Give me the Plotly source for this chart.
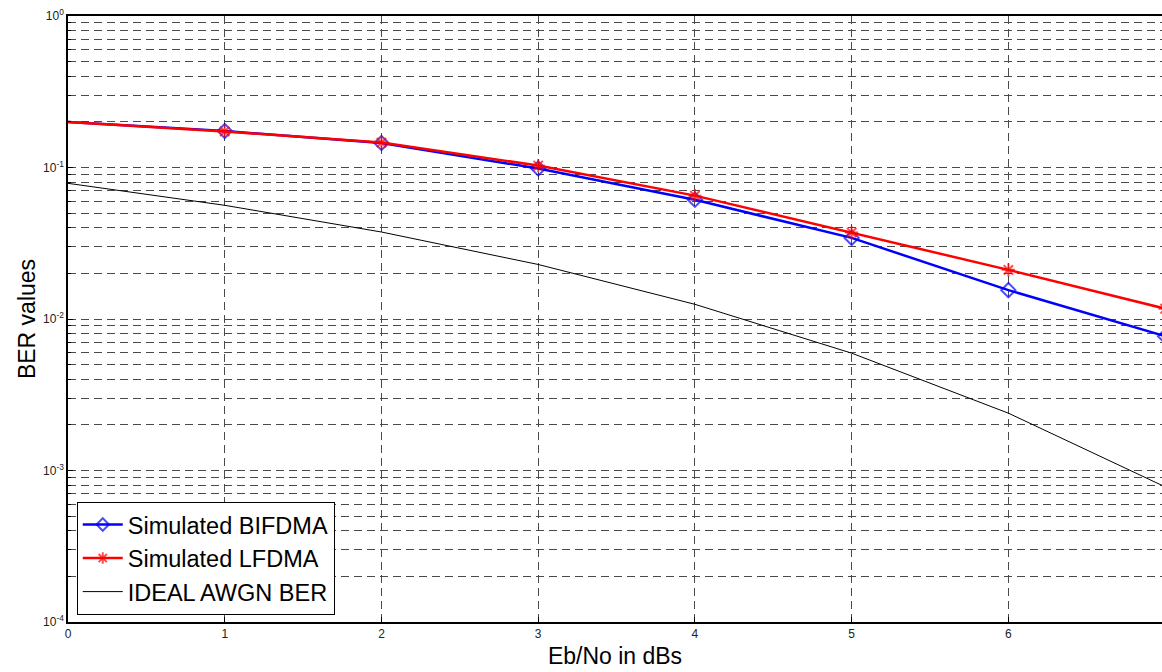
import plotly.graph_objects as go

ebno = [0, 1, 2, 3, 4, 5, 6, 7]
ber_bifdma = [0.200, 0.174, 0.145, 0.0985, 0.0612, 0.0343, 0.0155, 0.0077]
ber_lfdma = [0.200, 0.173, 0.146, 0.103, 0.0652, 0.0372, 0.0211, 0.0117]
ber_ideal = [0.0786, 0.0563, 0.0375, 0.0229, 0.0125, 0.00595, 0.00239, 0.00078]

ytick_vals = [1e-4, 1e-3, 1e-2, 1e-1, 1]
ytick_text = ["10<sup>-4</sup>", "10<sup>-3</sup>", "10<sup>-2</sup>", "10<sup>-1</sup>", "10<sup>0</sup>"]
xtick_vals = [0, 1, 2, 3, 4, 5, 6]

minor_vals = [k * 10.0 ** e for e in range(-4, 0) for k in range(2, 10)]
msize = [0 if x == 0 else 11 for x in ebno]

fig = go.Figure()
fig.add_trace(go.Scatter(
    x=ebno, y=ber_bifdma, mode="lines+markers", name="Simulated BIFDMA",
    line=dict(color="#0000ff", width=2.5),
    marker=dict(symbol="diamond-open", size=msize, color="#0000ff", line=dict(width=2, color="#0000ff")),
))
fig.add_trace(go.Scatter(
    x=ebno, y=ber_lfdma, mode="lines+markers", name="Simulated LFDMA",
    line=dict(color="#ff0000", width=2.5),
    marker=dict(symbol="asterisk-open", size=msize, color="#ff0000", line=dict(width=2, color="#ff0000")),
))
fig.add_trace(go.Scatter(
    x=ebno, y=ber_ideal, mode="lines", name="IDEAL AWGN BER",
    line=dict(color="#000000", width=1),
))

grid_color = "#4a4a4a"
fig.update_layout(
    width=1162, height=672,
    margin=dict(l=68, r=0, t=16, b=50),
    paper_bgcolor="white", plot_bgcolor="white",
    font=dict(family="Liberation Sans, Arial, sans-serif", color="#000"),
    showlegend=True,
    legend=dict(
        x=0.008, y=0.012, xanchor="left", yanchor="bottom",
        bgcolor="white", bordercolor="#000", borderwidth=1,
        font=dict(size=23.5, color="#000"),
        tracegroupgap=0, itemwidth=40,
    ),
    xaxis=dict(
        range=[0, 6.98], tickvals=xtick_vals, ticktext=[str(v) for v in xtick_vals],
        showline=True, linecolor="#000", linewidth=1.5, mirror=True,
        ticks="inside", ticklen=5, tickcolor="#000",
        showgrid=True, gridcolor=grid_color, griddash="8px,5px", gridwidth=1,
        zeroline=False,
        tickfont=dict(size=12, color="#222"),
        title=dict(text="Eb/No in dBs", font=dict(size=23), standoff=8),
    ),
    yaxis=dict(
        type="log", range=[-4, 0], tickvals=ytick_vals, ticktext=ytick_text,
        showline=True, linecolor="#000", linewidth=1.5, mirror=False,
        ticks="inside", ticklen=5, tickcolor="#000",
        showgrid=True, gridcolor=grid_color, griddash="8px,5px", gridwidth=1,
        zeroline=False,
        tickfont=dict(size=12, color="#222"),
        title=dict(text="BER values", font=dict(size=23), standoff=1),
        minor=dict(tickvals=minor_vals, showgrid=True, gridcolor=grid_color,
                   griddash="8px,5px", gridwidth=1, ticks="inside", ticklen=3, tickcolor="#000"),
    ),
)

fig.write_html("out.html")
